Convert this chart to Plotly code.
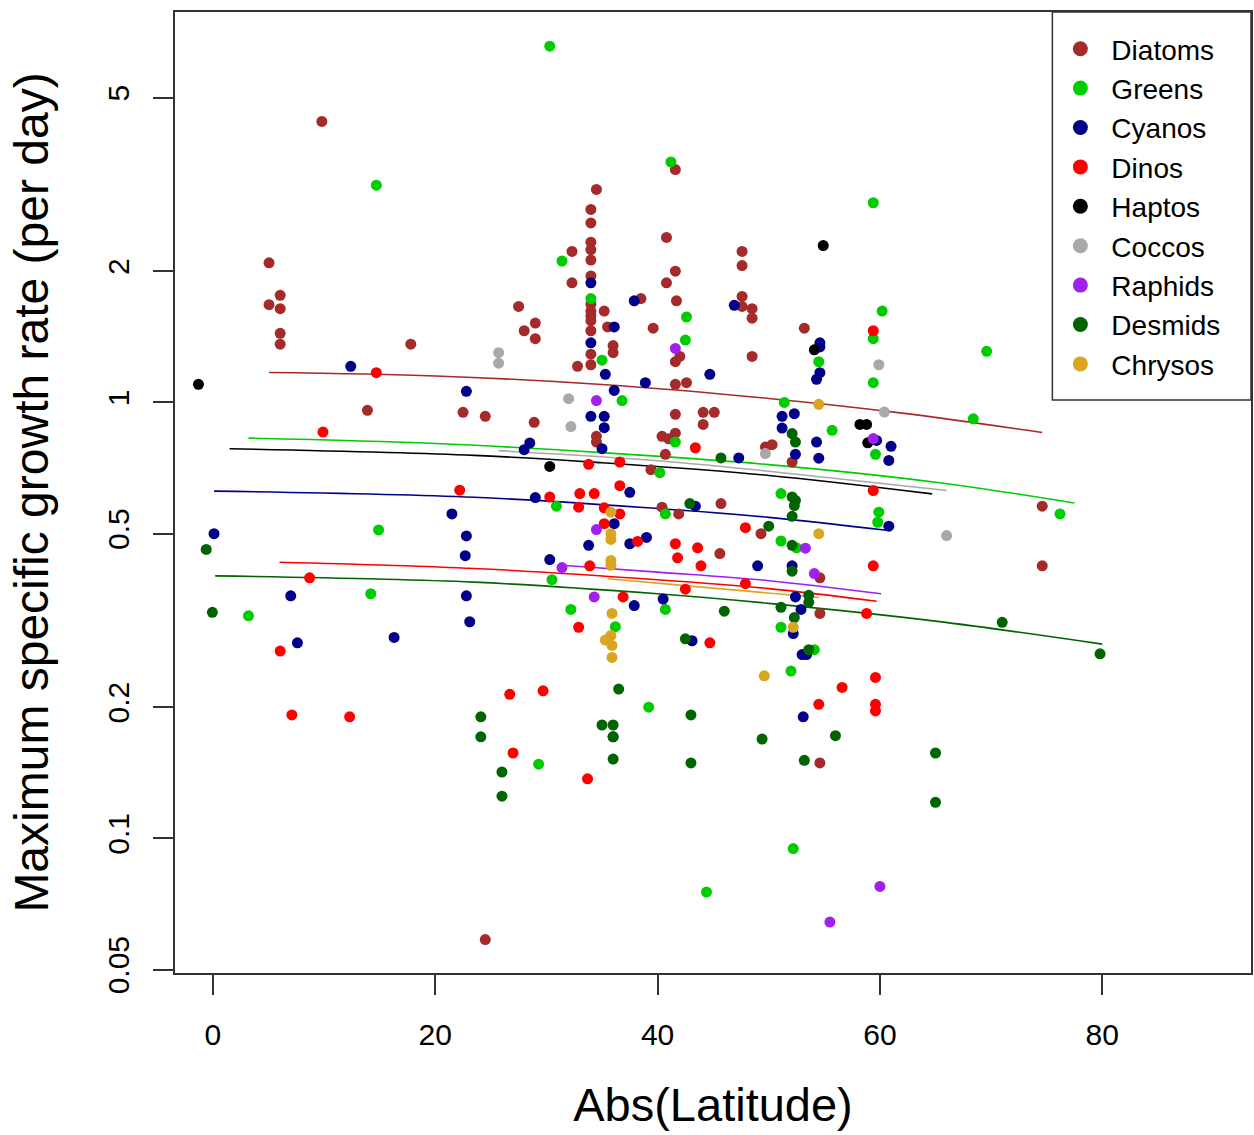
import plotly.graph_objects as go

FONT = "Liberation Sans, Arial, Helvetica, sans-serif"

groups = ["Diatoms", "Greens", "Cyanos", "Dinos", "Haptos", "Coccos", "Raphids", "Desmids", "Chrysos"]
group_colors = ["#A52A2A", "#00CD00", "#00008B", "#FF0000", "#000000", "#A9A9A9", "#A020F0", "#006400", "#DAA520"]

x_ticks = [0, 20, 40, 60, 80]
y_ticks = [0.05, 0.1, 0.2, 0.5, 1, 2, 5]
y_tick_labels = ["0.05", "0.1", "0.2", "0.5", "1", "2", "5"]

# ---- observations: abs(latitude), max growth rate (per day) ----
diatoms_lat = [9.8, 5.05, 6.05, 5.05, 6.05, 6.05, 6.05, 17.8, 13.9, 22.5, 24.5, 28.9,
               41.6, 34.5, 34.0, 34.0, 40.8, 34.0, 34.0, 32.3, 34.0, 47.6, 47.6, 41.6, 34.0, 32.3, 40.8, 47.6,
               38.5, 41.7, 27.5, 47.6, 48.5, 34.0, 34.0, 34.0, 34.0, 35.2, 48.5, 29.0, 28.0, 35.5, 39.6, 34.0, 29.0,
               36.0, 36.0, 34.0, 42.0, 41.6, 48.5, 32.8, 34.0, 41.6, 42.6, 41.6, 44.1, 45.1, 44.1, 34.5, 34.5,
               40.4, 41.6, 41.0, 40.7, 49.7, 50.3, 52.1, 39.4, 40.4, 41.9, 45.7, 45.6, 49.3,
               53.2, 74.6, 74.6, 54.6, 54.6, 54.6, 24.5]
diatoms_mu = [4.41, 2.09, 1.76, 1.675, 1.64, 1.44, 1.36, 1.36, 0.959, 0.949, 0.929, 0.90,
              3.42, 3.08, 2.77, 2.58, 2.39, 2.33, 2.24, 2.22, 2.12, 2.22, 2.06, 2.0, 1.95, 1.88, 1.88, 1.75,
              1.73, 1.71, 1.66, 1.66, 1.64, 1.68, 1.62, 1.58, 1.54, 1.62, 1.56, 1.52, 1.46, 1.49, 1.48, 1.46, 1.40,
              1.35, 1.30, 1.29, 1.275, 1.24, 1.275, 1.21, 1.22, 1.10, 1.11, 0.939, 0.949, 0.949, 0.89, 0.836, 0.811,
              0.836, 0.85, 0.825, 0.76, 0.79, 0.80, 0.73, 0.701, 0.575, 0.555, 0.586, 0.45, 0.50,
              1.48, 0.578, 0.422, 0.396, 0.328, 0.149, 0.0586]

greens_lat = [14.7, 30.3, 41.2, 31.4, 34.0, 42.6, 42.5, 35.0, 36.8, 41.6, 40.2, 30.9, 40.7, 14.9, 14.2,
              3.2, 30.5, 40.7, 32.2, 36.2, 39.2, 29.3, 44.4, 59.4, 60.2, 59.4, 69.6, 54.5, 59.4, 51.4,
              68.4, 55.7, 59.6, 76.2, 51.1, 59.9, 59.8, 51.1, 52.5, 51.1, 54.1, 52.0, 52.2]
greens_mu = [3.15, 6.56, 3.56, 2.11, 1.73, 1.57, 1.39, 1.25, 1.01, 0.811, 0.69, 0.578, 0.555, 0.51, 0.364,
             0.324, 0.392, 0.335, 0.335, 0.306, 0.2, 0.148, 0.0753, 2.87, 1.62, 1.40, 1.31, 1.24, 1.11, 1.0,
             0.917, 0.863, 0.76, 0.555, 0.618, 0.56, 0.531, 0.481, 0.464, 0.305, 0.271, 0.242, 0.0948]

cyanos_lat = [12.4, 22.8, 21.5, 0.1, 22.8, 22.7, 7.0, 22.8, 23.1, 16.3, 7.6, 34.0, 37.9, 46.9, 36.1, 34.0,
              35.3, 44.7, 38.9, 36.1, 34.0, 35.2, 35.2, 28.5, 28.0, 35.0, 47.3, 37.5, 29.0, 43.4, 36.1, 33.8,
              37.5, 39.0, 49.0, 30.3, 40.5, 37.9, 43.1, 54.6, 54.6, 54.6, 54.3, 51.2, 52.3, 51.2, 59.7, 61.0,
              54.3, 60.8, 54.5, 52.4, 60.8, 52.1, 52.4, 52.9, 52.2, 53.0, 53.4, 53.1, 36.0]
cyanos_mu = [1.21, 1.06, 0.555, 0.50, 0.494, 0.445, 0.36, 0.36, 0.314, 0.289, 0.281, 1.88, 1.71, 1.67, 1.49, 1.37,
             1.16, 1.16, 1.11, 1.065, 0.929, 0.929, 0.875, 0.807, 0.779, 0.783, 0.746, 0.622, 0.605, 0.578, 0.527, 0.47,
             0.474, 0.49, 0.422, 0.436, 0.354, 0.342, 0.284, 1.37, 1.34, 1.17, 1.13, 0.929, 0.942, 0.873, 0.818, 0.793,
             0.811, 0.736, 0.745, 0.76, 0.52, 0.422, 0.358, 0.335, 0.295, 0.264, 0.264, 0.19, 0.171]

dinos_lat = [14.7, 9.9, 22.2, 8.7, 6.05, 7.1, 12.3, 43.4, 33.8, 36.6, 36.6, 33.0, 34.3, 30.3, 32.9, 35.2,
             36.6, 35.2, 38.2, 41.6, 43.6, 41.8, 43.9, 47.9, 33.9, 42.5, 47.9, 36.9, 32.9, 44.7, 59.4, 59.4,
             59.4, 58.8, 26.7, 29.7, 27.0, 33.7, 59.6, 56.6, 54.5, 59.6, 59.6]
dinos_mu = [1.17, 0.855, 0.629, 0.396, 0.269, 0.192, 0.19, 0.787, 0.721, 0.73, 0.644, 0.618, 0.618, 0.607, 0.575, 0.573,
            0.555, 0.527, 0.48, 0.474, 0.464, 0.44, 0.422, 0.516, 0.422, 0.373, 0.384, 0.358, 0.305, 0.281, 1.46, 0.628,
            0.422, 0.328, 0.214, 0.218, 0.157, 0.137, 0.234, 0.222, 0.203, 0.203, 0.196]

haptos_lat = [-1.3, 30.3, 54.9, 54.1, 58.2, 58.8, 58.9]
haptos_mu = [1.10, 0.713, 2.29, 1.32, 0.89, 0.89, 0.808]

coccos_lat = [25.7, 25.7, 32.0, 32.2, 49.7, 59.9, 60.4, 66.0]
coccos_mu = [1.30, 1.23, 1.02, 0.88, 0.763, 1.22, 0.95, 0.495]

raphids_lat = [41.6, 34.5, 34.5, 31.4, 34.3, 59.4, 53.3, 54.1, 60.0, 55.5]
raphids_mu = [1.33, 1.01, 0.511, 0.418, 0.358, 0.826, 0.463, 0.405, 0.0776, 0.0643]

desmids_lat = [-0.6, -0.05, 45.7, 42.9, 50.0, 46.0, 42.5, 36.5, 24.1, 24.1, 43.0, 35.0, 36.0, 36.0, 49.4, 36.0,
               43.0, 26.0, 26.0, 79.8, 56.0, 53.2, 65.0, 65.0, 52.1, 52.4, 52.1, 52.4, 52.3, 52.1, 52.1, 52.1,
               53.6, 53.6, 51.1, 52.3, 71.0, 53.6]
desmids_mu = [0.46, 0.33, 0.746, 0.586, 0.52, 0.332, 0.287, 0.22, 0.19, 0.171, 0.192, 0.182, 0.182, 0.171, 0.169, 0.152,
              0.149, 0.142, 0.125, 0.265, 0.172, 0.151, 0.157, 0.121, 0.848, 0.811, 0.607, 0.596, 0.58, 0.548, 0.47, 0.41,
              0.361, 0.348, 0.339, 0.321, 0.313, 0.271]

chrysos_lat = [35.8, 35.8, 35.8, 35.8, 35.8, 35.9, 35.8, 35.3, 35.9, 35.9, 49.6, 54.5, 54.5, 52.2]
chrysos_mu = [0.56, 0.50, 0.485, 0.434, 0.423, 0.328, 0.292, 0.285, 0.277, 0.26, 0.236, 0.99, 0.50, 0.305]

# ---- fitted curves ----
diatoms_fit_lat = [5.05, 20, 35, 50, 62, 74.6]
diatoms_fit_mu = [1.171, 1.150, 1.099, 1.021, 0.945, 0.853]
greens_fit_lat = [3.2, 20, 35, 50, 65, 77.5]
greens_fit_mu = [0.828, 0.805, 0.767, 0.720, 0.656, 0.588]
cyanos_fit_lat = [0.1, 23.5, 40, 50, 60.6]
cyanos_fit_mu = [0.626, 0.606, 0.571, 0.545, 0.509]
dinos_fit_lat = [6.0, 23.5, 40, 50, 59.7]
dinos_fit_mu = [0.430, 0.416, 0.392, 0.374, 0.350]
haptos_fit_lat = [1.5, 23.5, 35, 50, 64.7]
haptos_fit_mu = [0.783, 0.756, 0.727, 0.680, 0.617]
coccos_fit_lat = [25.7, 40, 50, 66]
coccos_fit_mu = [0.775, 0.735, 0.695, 0.628]
raphids_fit_lat = [31.4, 40, 50, 60.1]
raphids_fit_mu = [0.423, 0.408, 0.390, 0.364]
desmids_fit_lat = [0.2, 23.5, 40, 50, 65, 80]
desmids_fit_mu = [0.400, 0.387, 0.364, 0.346, 0.315, 0.279]
chrysos_fit_lat = [35.5, 45, 54.5]
chrysos_fit_mu = [0.394, 0.375, 0.357]

points = [(diatoms_lat, diatoms_mu), (greens_lat, greens_mu), (cyanos_lat, cyanos_mu),
          (dinos_lat, dinos_mu), (haptos_lat, haptos_mu), (coccos_lat, coccos_mu),
          (raphids_lat, raphids_mu), (desmids_lat, desmids_mu), (chrysos_lat, chrysos_mu)]
fits = [(diatoms_fit_lat, diatoms_fit_mu), (greens_fit_lat, greens_fit_mu), (cyanos_fit_lat, cyanos_fit_mu),
        (dinos_fit_lat, dinos_fit_mu), (haptos_fit_lat, haptos_fit_mu), (coccos_fit_lat, coccos_fit_mu),
        (raphids_fit_lat, raphids_fit_mu), (desmids_fit_lat, desmids_fit_mu), (chrysos_fit_lat, chrysos_fit_mu)]

fig = go.Figure()

for name, col, (fx, fy) in zip(groups, group_colors, fits):
    fig.add_trace(go.Scatter(x=fx, y=fy, mode="lines", line=dict(color=col, width=1.6, shape="spline"),
                             showlegend=False, hoverinfo="skip"))

for name, col, (px, py) in zip(groups, group_colors, points):
    fig.add_trace(go.Scatter(x=px, y=py, mode="markers", name=name,
                             marker=dict(color=col, size=11, line=dict(width=0)), showlegend=False))

for name, col in zip(groups, group_colors):
    fig.add_trace(go.Scatter(x=[None], y=[None], mode="markers", name=name,
                             marker=dict(color=col, size=15, line=dict(width=0)), showlegend=True))

W, H = 1254, 1135
L, R, T, B = 175, 1, 12, 162
pw, ph = W - L - R, H - T - B

fig.update_layout(
    width=W, height=H,
    margin=dict(l=L, r=R, t=T, b=B),
    paper_bgcolor="white", plot_bgcolor="white",
    font=dict(family=FONT, color="black"),
    showlegend=True,
    legend=dict(x=(1051 - L) / pw, xanchor="left", y=1 - 12 / ph, yanchor="top",
                font=dict(size=28, family=FONT, color="black"),
                bgcolor="rgba(0,0,0,0)", borderwidth=0, itemwidth=52, tracegroupgap=0),
    shapes=[dict(type="rect", xref="paper", yref="paper",
                 x0=(1054 - L) / pw, x1=1, y0=(H - B - 400) / ph, y1=1,
                 line=dict(color="#333333", width=1.5), layer="above")],
)

fig.update_xaxes(range=[-3.41, 93.38], tickvals=x_ticks, ticks="outside", ticklen=20, tickwidth=1.5,
                 tickcolor="#333333", showgrid=False, zeroline=False, showline=True, mirror=True,
                 linecolor="#333333", linewidth=1.5, tickfont=dict(size=30, family=FONT),
                 ticklabelstandoff=14,
                 title=dict(text="Abs(Latitude)", font=dict(size=47, family=FONT), standoff=38))
fig.update_yaxes(type="log", range=[-1.3087, 0.8954], tickvals=y_ticks, ticktext=y_tick_labels,
                 tickangle=-90, ticks="outside", ticklen=20, tickwidth=1.5, tickcolor="#333333",
                 showgrid=False, zeroline=False, showline=True, mirror=True,
                 linecolor="#333333", linewidth=1.5, tickfont=dict(size=30, family=FONT),
                 ticklabelstandoff=12,
                 title=dict(text="Maximum specific growth rate (per day)", font=dict(size=48, family=FONT),
                            standoff=38))

fig.write_html("out.html")
